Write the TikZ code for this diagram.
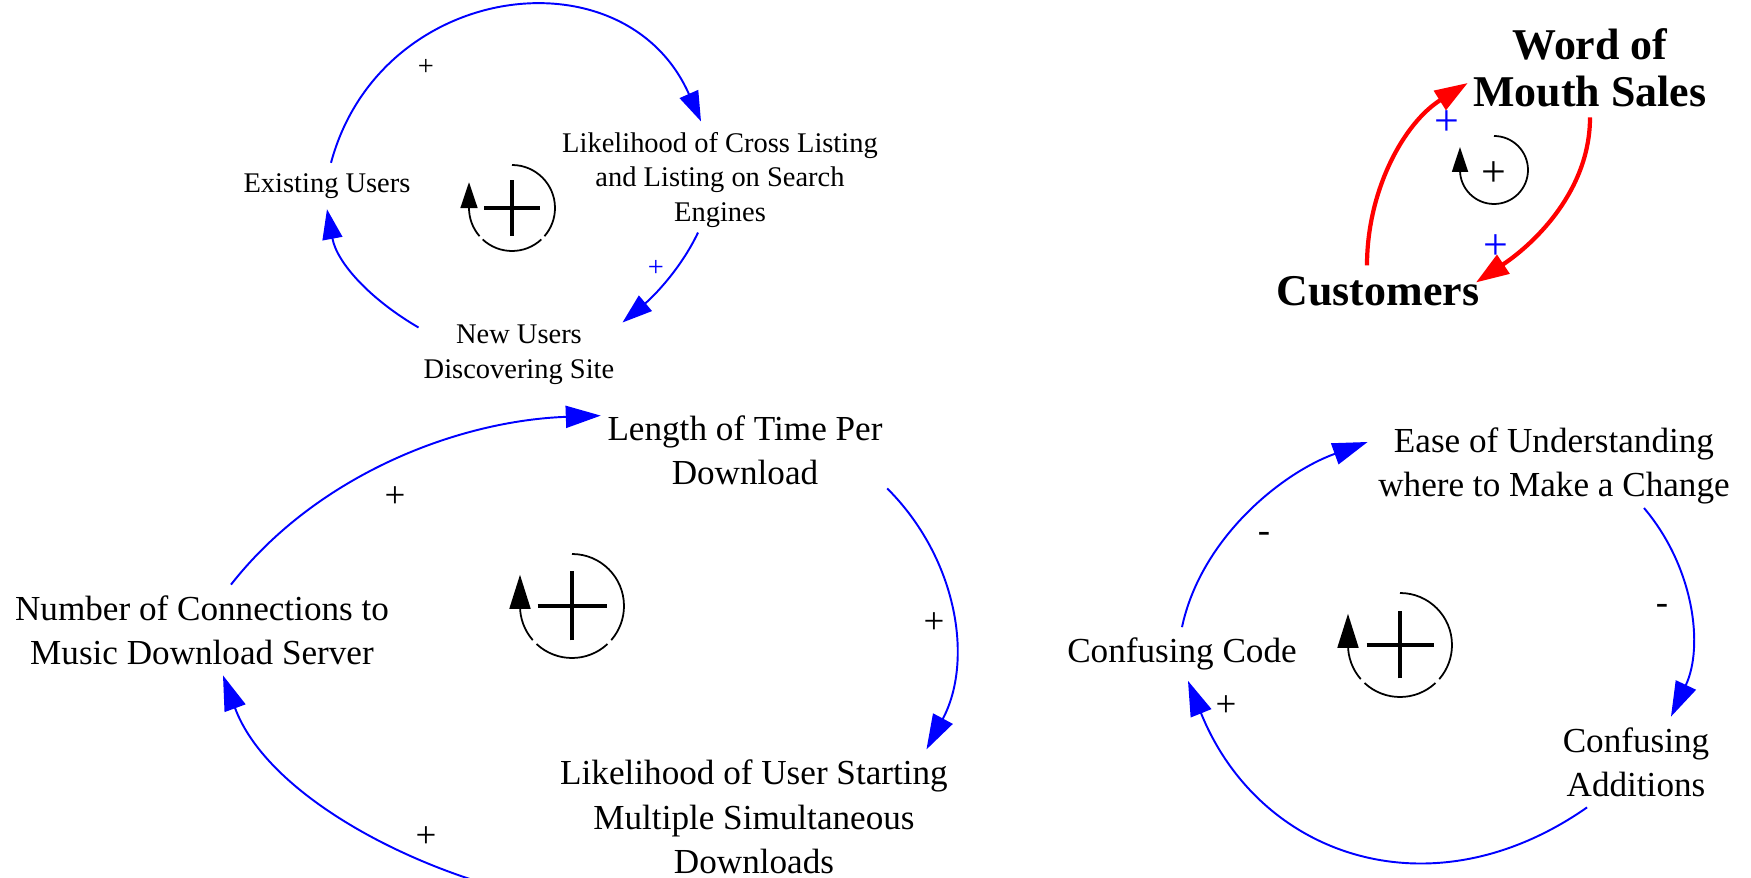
\documentclass[tikz,border=0pt]{standalone}
\usepackage{fontspec}
\setmainfont{Liberation Serif}
\usetikzlibrary{arrows.meta, calc}
\definecolor{linkBlue}{HTML}{0000FF}
\definecolor{linkRed}{HTML}{FF0000}

\begin{document}
\begin{tikzpicture}[every node/.style={inner sep=1mm, align=center},
  smallvar/.style={font=\fontsize{8.1}{9.9}\selectfont},
  var/.style={font=\fontsize{10}{12.6}\selectfont},
  boldvar/.style={font=\fontsize{12.5}{13.4}\selectfont\bfseries},
  link/.style={draw=linkBlue, line width=0.55pt, -{Triangle[length=3.5mm, width=2.2mm]}},
  smalllink/.style={link, -{Triangle[length=3mm, width=2mm]}},
  redlink/.style={draw=linkRed, line width=1.2pt, -{Triangle[length=3.3mm, width=2.2mm]}},
  pol/.style={inner sep=0pt, font=\fontsize{10.5}{12}\selectfont},
  smallpol/.style={inner sep=0pt, font=\fontsize{8.1}{9.9}\selectfont},
  loopline/.style={line width=0.5pt}]
\useasboundingbox (0,0) rectangle (17.51,-8.78);

% loop 1: users and search engines
\node[smallvar] (exist) at (3.27,-1.86) {Existing Users};
\node[smallvar] (likeX) at (7.20,-1.80) {Likelihood of Cross Listing\\and Listing on Search\\Engines};
\node[smallvar] (newU) at (5.19,-3.55) {New Users\\Discovering Site};
\draw[smalllink] ([xshift=0.4mm]exist.north) .. controls +(0.49,1.82) and +(-0.76,1.72) .. ([xshift=-1.9mm]likeX.north);
\draw[smalllink] ([shift={(-2.2mm,0.6mm)}]likeX.south) .. controls +(-0.17,-0.36) and +(0.31,0.26) .. ([shift={(-0.25mm,-0.8mm)}]newU.north east);
\draw[smalllink] ([shift={(0.55mm,-1.3mm)}]newU.north west) .. controls +(-0.48,0.28) and +(0.1,-0.54) .. (exist.south);
\node[smallpol] (p1) at (4.26,-0.67) {+};
\node[smallpol, linkBlue] (p2) at (6.56,-2.68) {+};

% loop 2: word of mouth
\node[boldvar] (word) at (15.90,-0.675) {Word of\\Mouth Sales};
\node[boldvar] (cust) at (13.78,-2.91) {Customers};
\draw[redlink] ([xshift=-1.1mm]cust.north) .. controls +(0,0.75) and +(-0.64,-0.4) .. ([shift={(0.5mm,-1.55mm)}]word.west);
\draw[redlink] (word.south) .. controls +(0,-0.72) and +(0.6,0.4) .. ([shift={(-1.4mm,-1.7mm)}]cust.north east);
\node[pol, font=\fontsize{12.5}{13}\selectfont, linkBlue] (p3) at (14.47,-1.23) {+};
\node[pol, font=\fontsize{12.5}{13}\selectfont, linkBlue] (p4) at (14.96,-2.47) {+};
\draw[loopline, -{Triangle[length=2.5mm, width=1.6mm]}] (14.94,-1.70) ++(90:0.34) arc[start angle=90, end angle=-180, radius=0.34] -- ++(0,0.23);
\node[font=\fontsize{12.5}{13}\selectfont, inner sep=0pt] (trplus) at (14.94,-1.74) {+};

% loop 3: downloads
\node[var] (lenT) at (7.45,-4.50) {Length of Time Per\\Download};
\node[var] (numC) at (2.02,-6.30) {Number of Connections to\\Music Download Server};
\node[var] (likeU) at (7.54,-8.17) {Likelihood of User Starting\\Multiple Simultaneous\\Downloads};
\draw[link] ([xshift=2.9mm]numC.north) .. controls +(0.87,1.11) and +(-1.41,-0.05) .. ([shift={(0.4mm,-1.1mm)}]lenT.north west);
\draw[link] ([shift={(-0.6mm,0.7mm)}]lenT.south east) .. controls +(0.71,-0.71) and +(0.47,0.88) .. ([xshift=-3.2mm]likeU.north east);
\draw[link] ([yshift=-1.5mm]likeU.south west) .. controls +(-1.28,0.23) and +(0.45,-1.22) .. ([xshift=2.1mm]numC.south);
\node[pol] (p5) at (3.95,-4.97) {+};
\node[pol] (p6) at (9.34,-6.23) {+};
\node[pol] (p7) at (4.26,-8.37) {+};

% loop 4: confusing code
\node[var] (ease) at (15.54,-4.66) {Ease of Understanding\\where to Make a Change};
\node[var] (ccode) at (11.82,-6.54) {Confusing Code};
\node[var] (cadd) at (16.36,-7.62) {Confusing\\Additions};
\draw[link] (ccode.north) .. controls +(0.19,0.89) and +(-0.86,-0.31) .. ([yshift=-2.5mm]ease.north west);
\draw[link] ([shift={(9mm,0.7mm)}]ease.south) .. controls +(0.5,-0.59) and +(0.33,0.7) .. ([xshift=3.5mm]cadd.north);
\draw[link] ([xshift=3.5mm]cadd.south west) .. controls +(-1.56,-1.09) and +(0.71,-1.76) .. ([xshift=0.6mm]ccode.south);
\node[pol] (p8) at (12.64,-5.37) {-};
\node[pol] (p9) at (16.62,-6.09) {-};
\node[pol] (p10) at (12.26,-7.06) {+};

% reinforcing loop markers
\foreach \cx/\cy/\r/\p/\al/\aw in {5.12/-2.08/0.43/0.28/2.6mm/1.7mm, 5.72/-6.06/0.52/0.345/3.4mm/2.1mm, 14.00/-6.45/0.52/0.335/3.4mm/2.1mm}{
  \draw[loopline] (\cx,\cy) ++(90:\r) arc[start angle=90, end angle=-41, radius=\r];
  \draw[loopline] (\cx,\cy) ++(-47:\r) arc[start angle=-47, end angle=-133, radius=\r];
  \draw[loopline, -{Triangle[length=\al, width=\aw]}] (\cx,\cy) ++(-139:\r) arc[start angle=-139, end angle=-180, radius=\r] -- ++(0,0.6*\r);
  \draw[line width=1.2pt] (\cx-\p,\cy) -- (\cx+\p,\cy) (\cx,\cy-\p) -- (\cx,\cy+\p);
}
\end{tikzpicture}
\end{document}
